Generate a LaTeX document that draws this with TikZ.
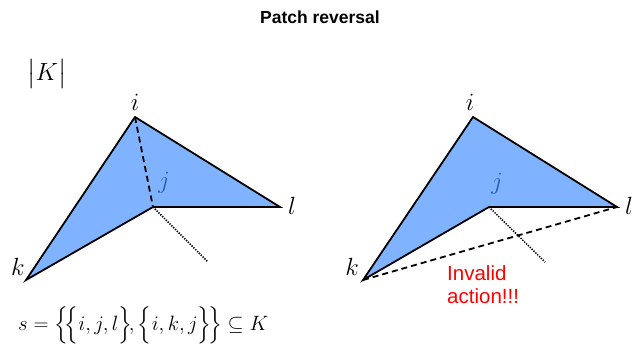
\documentclass[tikz,border=0pt]{standalone}
\usepackage{amsmath}
\usepackage{fontspec}
\newfontfamily\sansf{Liberation Sans}
\begin{document}
\begin{tikzpicture}[x=1pt,y=-1pt,
  face/.style={fill=fillblue,draw=black,line width=1.8pt,line join=miter},
  hidden/.style={line width=1.8pt,dash pattern=on 6pt off 4pt},
  dotline/.style={line width=1.5pt,dash pattern=on 1.3pt off 1.3pt},
  vlabel/.style={font=\fontsize{24}{26}\selectfont},
  jlabel/.style={font=\fontsize{24}{26}\selectfont,text=jblue}]
\definecolor{fillblue}{HTML}{80B3FF}
\definecolor{jblue}{HTML}{2A5AA8}
\useasboundingbox (0,0) rectangle (640,345);
\node[font=\sansf\bfseries\fontsize{17.5}{20}\selectfont] (title) at (320,17) {Patch reversal};
\node[font=\fontsize{23}{24}\selectfont] (absk) at (47,74) {$\bigl|K\bigr|$};
% left
\coordinate (i1) at (135,117);
\coordinate (j1) at (153,207);
\coordinate (l1) at (280,207);
\coordinate (k1) at (26,280);
\coordinate (d1) at (208,262);
\draw[face] (i1) -- (l1) -- (j1) -- (k1) -- cycle;
\draw[hidden] (i1) -- (j1);
\draw[dotline] (j1) -- (d1);
\node[vlabel] (li1) at (135,102) {$i$};
\node[jlabel] (lj1) at (164,183) {$j$};
\node[vlabel] (ll1) at (292,206) {$l$};
\node[vlabel] (lk1) at (18,267) {$k$};
% right
\coordinate (i2) at (473,117);
\coordinate (j2) at (489,207);
\coordinate (l2) at (617,207);
\coordinate (k2) at (363,280);
\coordinate (d2) at (545,262);
\draw[face] (i2) -- (l2) -- (j2) -- (k2) -- cycle;
\draw[dotline] (j2) -- (d2);
\draw[hidden] (k2) -- (l2);
\node[vlabel] (li2) at (470,102) {$i$};
\node[jlabel] (lj2) at (497,184) {$j$};
\node[vlabel] (ll2) at (629,206) {$l$};
\node[vlabel] (lk2) at (352,267) {$k$};
\node[font=\sansf\fontsize{20.5}{23}\selectfont,text=red,align=left,anchor=north west,inner sep=0pt] (inv) at (447,265) {Invalid\\action!!!};
\node[font=\fontsize{20.5}{20}\selectfont,anchor=west,inner sep=0pt] (formula) at (18,325)
  {$s=\Bigl\{\!\Bigl\{i,j,l\Bigr\}\!,\Bigl\{i,k,j\Bigr\}\!\Bigr\}\subseteq K$};
\end{tikzpicture}
\end{document}
